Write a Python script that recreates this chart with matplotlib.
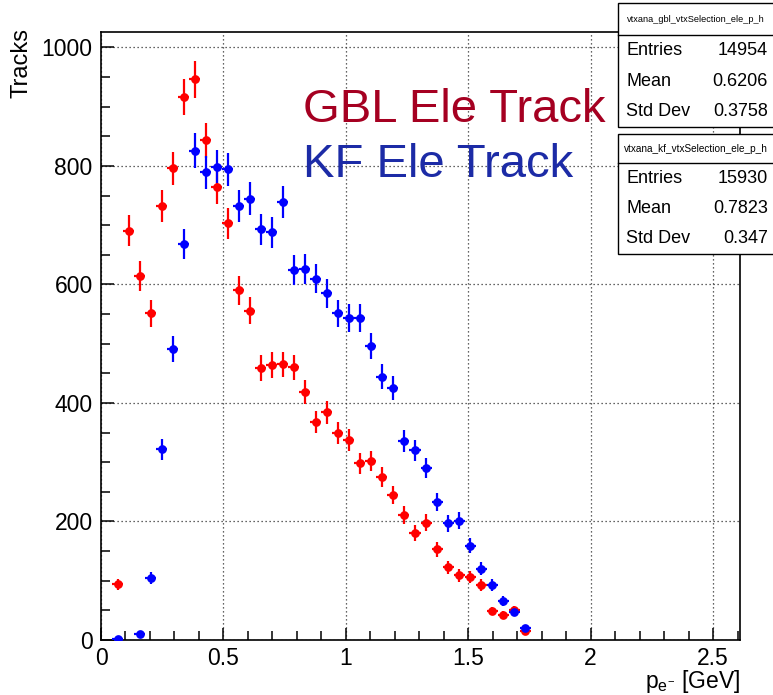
"""p_e- spectrum of vertex-selected electron tracks: GBL vs KF (ROOT-style histogram look)."""

import matplotlib

matplotlib.use("Agg")
import matplotlib.pyplot as plt  # noqa: E402
import numpy as np  # noqa: E402
from matplotlib.lines import Line2D  # noqa: E402
from matplotlib.patches import Rectangle  # noqa: E402

plt.rcParams["font.family"] = ["Liberation Sans", "DejaVu Sans"]
plt.rcParams["mathtext.fontset"] = "custom"
plt.rcParams["mathtext.rm"] = "Liberation Sans"
plt.rcParams["mathtext.it"] = "Liberation Sans"

# histogram binning (GeV)
BIN_WIDTH = 0.045
X_MAX = 2.61
Y_MAX = 1026

# bin index -> counts, bins 1..38
gbl_bins = list(range(1, 39))
gbl_counts = [94, 691, 614, 551, 733, 796, 916, 946, 843, 764,
              703, 590, 556, 459, 464, 465, 460, 418, 368, 384,
              349, 337, 298, 302, 275, 245, 211, 180, 198, 153,
              123, 109, 106, 93, 49, 42, 50, 15]
kf_bins = list(range(1, 39))
kf_counts = [1, 0, 10, 104, 322, 491, 668, 826, 789, 799,
             794, 732, 745, 693, 688, 739, 624, 626, 610, 585,
             551, 543, 543, 496, 444, 425, 336, 320, 290, 233,
             197, 201, 159, 120, 93, 66, 47, 20]

gbl_stats = [("Entries", "14954"), ("Mean", "0.6206"), ("Std Dev", "0.3758")]
kf_stats = [("Entries", "15930"), ("Mean", "0.7823"), ("Std Dev", "0.347")]

W, H = 773, 695


def fx(px):
    return px / W


def fy(py):
    return 1 - py / H


fig = plt.figure(figsize=(W / 100, H / 100), dpi=100)
ax = fig.add_axes([fx(101), fy(640), fx(740) - fx(101), fy(32) - fy(640)])


def draw_hist(bins, counts, color):
    b = np.asarray(bins)
    c = np.asarray(counts, dtype=float)
    keep = c > 0
    centers = (b[keep] + 0.5) * BIN_WIDTH
    ax.errorbar(centers, c[keep], yerr=np.sqrt(c[keep]), xerr=BIN_WIDTH / 2,
                fmt="o", color=color, ms=6.3, elinewidth=1.6, capsize=0,
                markeredgewidth=0, zorder=3)


draw_hist(gbl_bins, gbl_counts, "#ff0000")
draw_hist(kf_bins, kf_counts, "#0000ff")

ax.set_xlim(0, X_MAX)
ax.set_ylim(0, Y_MAX)
ax.set_xticks(np.arange(0, 2.51, 0.5))
ax.set_xticklabels(["0", "0.5", "1", "1.5", "2", "2.5"])
ax.set_xticks(np.arange(0, 2.61, 0.1), minor=True)
ax.set_yticks(np.arange(0, 1001, 200))
ax.set_yticks(np.arange(0, 1001, 50), minor=True)
ax.tick_params(which="both", direction="in", labelsize=16.5, width=1.1)
ax.tick_params(axis="x", which="major", length=9, pad=5)
ax.tick_params(axis="y", which="major", length=9, pad=6)
ax.tick_params(which="minor", length=6.5)
ax.grid(True, which="major", color="#333333", linestyle=(0, (1, 2.2)), lw=0.9)
for sp in ax.spines.values():
    sp.set_linewidth(1.2)

fig.text(fx(740), fy(688), "$p_{e^{-}}$ [GeV]", ha="right", va="baseline", fontsize=16.5)
fig.text(fx(22), fy(28), "Tracks", rotation=90, ha="center", va="top", fontsize=17)

fig.text(fx(303), fy(122), "GBL Ele Track", color="#a50021", fontsize=34, va="baseline")
fig.text(fx(303), fy(177), "KF Ele Track", color="#1c2ba6", fontsize=34, va="baseline")


def stat_box(top, head, bottom, title, rows, title_size):
    fig.add_artist(Rectangle((fx(618), fy(bottom)), fx(778) - fx(618), fy(top) - fy(bottom),
                             transform=fig.transFigure, facecolor="white",
                             edgecolor="black", lw=1.0, zorder=10))
    fig.add_artist(Line2D([fx(618), fx(778)], [fy(head), fy(head)],
                          transform=fig.transFigure, color="black", lw=1.0, zorder=11))
    fig.text(fx(696), fy((top + head) / 2), title, ha="center", va="center",
             fontsize=title_size, zorder=12)
    step = (bottom - head) / len(rows)
    for i, (name, val) in enumerate(rows):
        yc = head + step * (i + 0.5)
        fig.text(fx(626), fy(yc), name, ha="left", va="center", fontsize=13, zorder=12)
        fig.text(fx(768), fy(yc), val, ha="right", va="center", fontsize=13, zorder=12)


stat_box(3, 35, 127, "vtxana_gbl_vtxSelection_ele_p_h", gbl_stats, 6.6)
stat_box(134, 163, 254, "vtxana_kf_vtxSelection_ele_p_h", kf_stats, 7.2)

fig.savefig("out.png", dpi=100)
